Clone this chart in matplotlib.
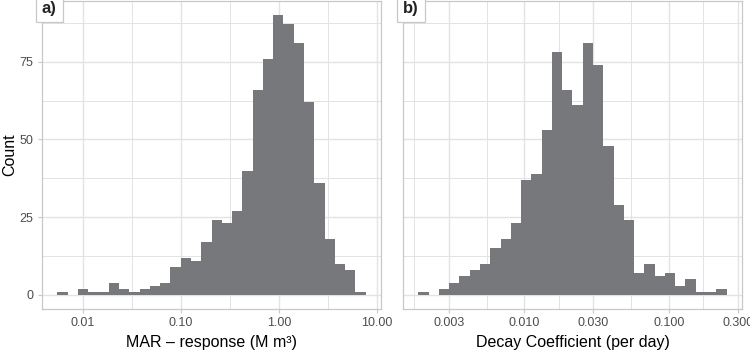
import numpy as np
import matplotlib
matplotlib.use("Agg")
import matplotlib.pyplot as plt

# =========================
# Data
# =========================
mar_counts = [1, 0, 2, 1, 1, 4, 2, 1, 2, 3, 4, 9, 12, 11, 17, 24, 23, 27,
              40, 66, 76, 90, 87, 81, 62, 36, 18, 10, 8, 1]
mar_range = (0.00552, 7.67)          # first / last bin edge (M m3)
mar_ticks = [0.01, 0.1, 1, 10]
mar_ticklabels = ["0.01", "0.10", "1.00", "10.00"]
mar_minor = [10 ** -1.5, 10 ** -0.5, 10 ** 0.5]

decay_counts = [1, 0, 2, 4, 6, 8, 10, 15, 18, 23, 37, 39, 53, 78, 66, 61,
                81, 74, 48, 29, 24, 7, 10, 6, 7, 3, 5, 1, 1, 2]
decay_range = (0.001845, 0.2506)     # first / last bin edge (per day)
decay_ticks = [0.003, 0.01, 0.03, 0.1, 0.3]
decay_ticklabels = ["0.003", "0.010", "0.030", "0.100", "0.300"]
decay_minor = [10 ** -2.761, 10 ** -2.261, 10 ** -1.761, 10 ** -1.261, 10 ** -0.761]

y_ticks = [0, 25, 50, 75]
y_minor = [12.5, 37.5, 62.5, 87.5]

# =========================
# Style
# =========================
plt.rcParams['font.family'] = ['Liberation Sans', 'DejaVu Sans']
BAR = '#77787c'
GRID = '#e3e3e3'
BORDER = '#c8c8c8'
TXT = '#4d4d4d'


def log_expand(lo, hi, frac=0.05):
    a, b = np.log10(lo), np.log10(hi)
    d = (b - a) * frac
    return 10 ** (a - d), 10 ** (b + d)


def draw_panel(ax, counts, rng, ticks, ticklabels, minor, xlabel, tag, show_y):
    edges = np.logspace(np.log10(rng[0]), np.log10(rng[1]), len(counts) + 1)
    ax.set_xscale('log')
    ax.stairs(counts, edges, fill=True, color=BAR, linewidth=0, zorder=2)
    ax.set_xlim(*log_expand(*rng))
    ymax = max(mar_counts)
    ax.set_ylim(-0.05 * ymax, 1.05 * ymax)

    # grid
    for v in ticks:
        ax.axvline(v, color=GRID, lw=1.0, zorder=0)
    for v in minor:
        ax.axvline(v, color=GRID, lw=0.7, zorder=0)
    for v in y_ticks:
        ax.axhline(v, color=GRID, lw=1.0, zorder=0)
    for v in y_minor:
        ax.axhline(v, color=GRID, lw=0.7, zorder=0)

    ax.set_xticks(ticks)
    ax.set_xticklabels(ticklabels)
    ax.xaxis.set_minor_locator(matplotlib.ticker.NullLocator())
    ax.set_yticks(y_ticks)
    if show_y:
        ax.set_yticklabels([str(v) for v in y_ticks])
        ax.set_ylabel("Count", fontsize=11.5, color='black', labelpad=2)
    else:
        ax.tick_params(axis='y', left=False, labelleft=False)
    ax.tick_params(axis='both', length=3, width=0.8, color=BORDER,
                   labelcolor=TXT, labelsize=9, pad=3)
    ax.set_xlabel(xlabel, fontsize=11.5, color='black', labelpad=4)
    for s in ax.spines.values():
        s.set_color(BORDER)
        s.set_linewidth(0.9)

    ax.text(0.0, 1.0, tag, transform=ax.transAxes, ha='left', va='top',
            fontsize=12, fontweight='bold', color='#222222', zorder=5,
            bbox=dict(boxstyle='square,pad=0.35', fc='white', ec=BORDER, lw=0.9))


fig = plt.figure(figsize=(7.5, 3.55), dpi=100)
ax1 = fig.add_axes([0.056, 0.1296, 0.452, 0.8676])
ax2 = fig.add_axes([0.5373, 0.1296, 0.452, 0.8676])

draw_panel(ax1, mar_counts, mar_range, mar_ticks, mar_ticklabels, mar_minor,
           "MAR – response (M m³)", "a)", True)
draw_panel(ax2, decay_counts, decay_range, decay_ticks, decay_ticklabels, decay_minor,
           "Decay Coefficient (per day)", "b)", False)

fig.savefig("out.png", dpi=100)
